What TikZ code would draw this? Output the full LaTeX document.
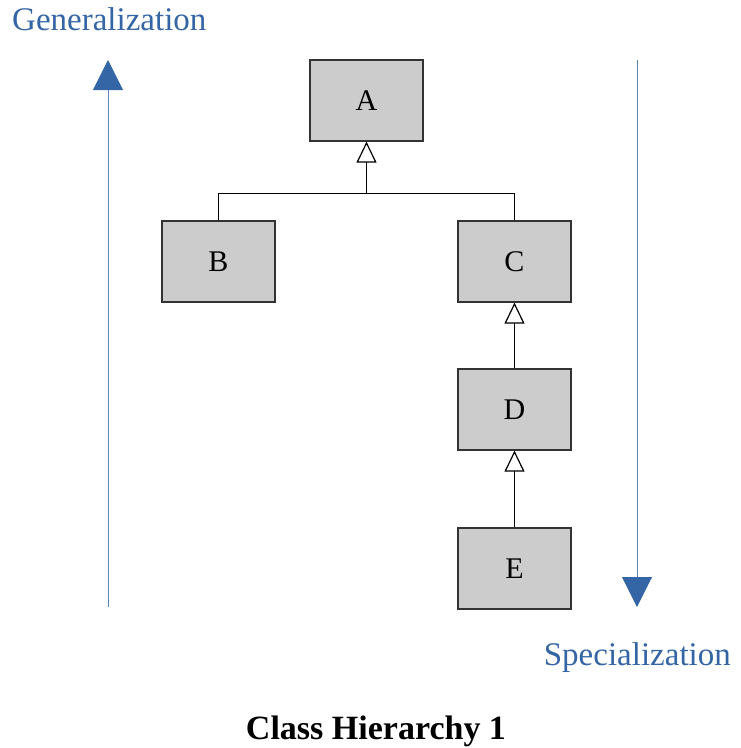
\documentclass[tikz,border=0pt]{standalone}
\usepackage{fontspec}
\setmainfont{Liberation Serif}
\usepackage{xcolor}
\usetikzlibrary{arrows.meta,positioning,calc}
\definecolor{HierBlue}{RGB}{52,101,164}
\definecolor{BoxGray}{RGB}{204,204,204}
\tikzset{
  classbox/.style = {draw=black!80, line width=1.2pt, fill=BoxGray,
                     minimum width=113pt, minimum height=81pt,
                     inner sep=0pt, font=\fontsize{30}{30}\selectfont},
  inherit/.style  = {line width=1pt, -{Triangle[open,length=21pt,width=20pt,line width=1.2pt]}},
  axisarrow/.style = {HierBlue!80, line width=1pt,
                     -{Triangle[length=30pt,width=30pt,fill=HierBlue,color=HierBlue]}},
  axislabel/.style = {HierBlue, inner sep=0pt, font=\fontsize{33}{33}\selectfont}
}
\begin{document}
\begin{tikzpicture}[x=1pt, y=-1pt]
  \useasboundingbox (0,0) rectangle (741,748);

  % Classes
  \node [classbox] (A) at (366.5, 100.5) {A};
  \node [classbox] (B) at (218.5, 261.5) {B};
  \node [classbox] (C) at (514.5, 261.5) {C};
  \node [classbox] (D) at (514.5, 409.5) {D};
  \node [classbox] (E) at (514.5, 568.5) {E};

  % Inheritance
  \coordinate (fork) at ($(A.south) + (0, 52)$);
  \draw [line width=1pt] (B.north) |- (fork) -| (C.north);
  \draw [inherit] (fork) -- (A.south);
  \draw [inherit] (D.north) -- (C.south);
  \draw [inherit] (E.north) -- (D.south);

  % Direction of the hierarchy
  \coordinate (genlow)  at (108, 607);
  \coordinate (genhigh) at (108, 60);
  \coordinate (spechigh) at (637, 60);
  \coordinate (speclow)  at (637, 607);
  \draw [axisarrow] (genlow) -- (genhigh);
  \draw [axisarrow] (spechigh) -- (speclow);

  \node [axislabel, anchor=base west] (gen)  at (12, 30)   {Generalization};
  \node [axislabel, anchor=base east] (spec) at (731, 665) {Specialization};

  % Caption
  \node [font=\fontsize{34}{34}\selectfont\bfseries, anchor=base] (caption) at (376, 739) {Class Hierarchy 1};
\end{tikzpicture}
\end{document}
